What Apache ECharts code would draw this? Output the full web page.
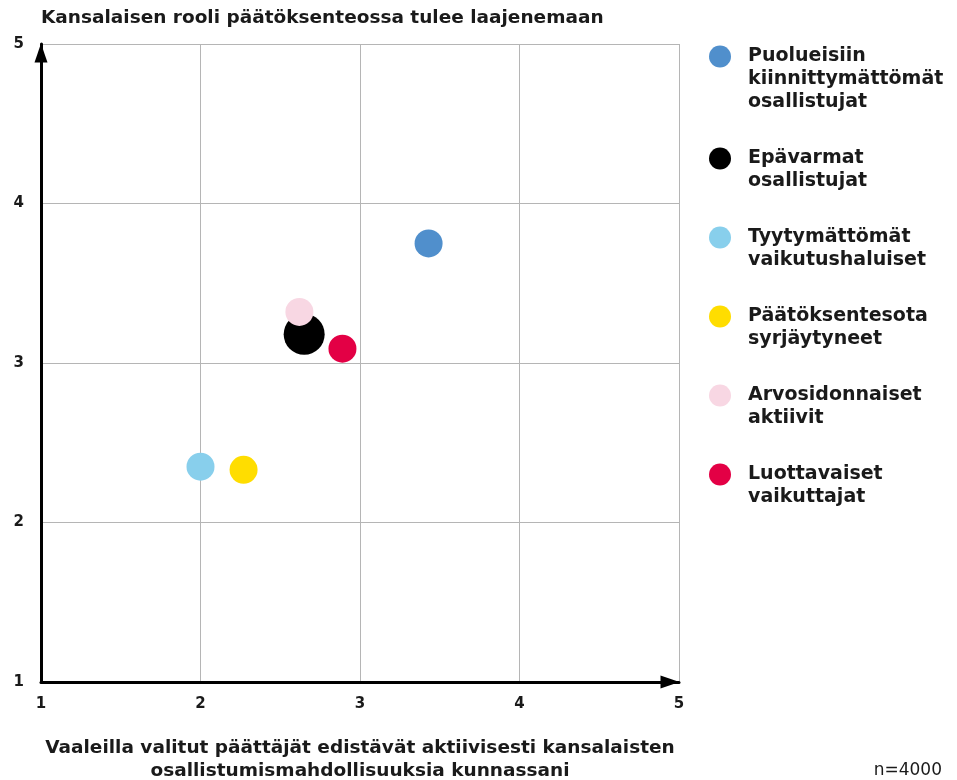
<!DOCTYPE html>
<html>
<head>
<meta charset="utf-8">
<script src="https://cdn.jsdelivr.net/npm/echarts@6/dist/echarts.min.js"></script>
<style>
  html, body { margin: 0; padding: 0; background: #fff; }
  #chart { width: 957px; height: 780px; }
</style>
</head>
<body>
<div id="chart"></div>
<script>
// ryhmät (legendan järjestys)
const groups = [
  'Puolueisiin kiinnittymättömät osallistujat',
  'Epävarmat osallistujat',
  'Tyytymättömät vaikutushaluiset',
  'Päätöksentesota syrjäytyneet',
  'Arvosidonnaiset aktiivit',
  'Luottavaiset vaikuttajat'
];
const groupLabels = [
  'Puolueisiin\nkiinnittymättömät\nosallistujat',
  'Epävarmat\nosallistujat',
  'Tyytymättömät\nvaikutushaluiset',
  'Päätöksentesota\nsyrjäytyneet',
  'Arvosidonnaiset\naktiivit',
  'Luottavaiset\nvaikuttajat'
];
// x: päättäjät edistävät osallistumista, y: kansalaisen rooli laajenee
const xValues = [3.43, 2.65, 2.00, 2.27, 2.62, 2.89];
const yValues = [3.75, 3.18, 2.35, 2.33, 3.32, 3.09];
const colors = ['#508fcc', '#000000', '#88cfec', '#ffdd00', '#f8d7e3', '#e30045'];
const axisTicks = [1, 2, 3, 4, 5];

const FONT = 'DejaVu Sans';
const LH = 23;

const chart = echarts.init(document.getElementById('chart'));

const axisBase = {
  type: 'value',
  min: axisTicks[0],
  max: axisTicks[axisTicks.length - 1],
  interval: 1,
  axisLine: {
    show: true,
    symbol: ['none', 'triangle'],
    symbolSize: [13, 19],
    symbolOffset: [0, -9],
    lineStyle: { color: '#000', width: 3 }
  },
  axisTick: { show: false },
  splitLine: { show: true, lineStyle: { color: '#b5b5b5', width: 1 } },
  axisLabel: {
    color: '#1a1a1a',
    fontFamily: FONT,
    fontWeight: 'bold',
    fontSize: 15
  }
};

const option = {
  animation: false,
  color: colors,
  title: {
    text: 'n=4000',
    right: 15,
    bottom: 1,
    padding: 0,
    textStyle: { fontFamily: FONT, fontWeight: 'normal', fontSize: 17, color: '#1a1a1a' }
  },
  grid: { left: 41, right: 278, top: 44, bottom: 98, outerBoundsMode: 'none', containLabel: false },
  xAxis: Object.assign({}, axisBase, {
    name: 'Vaaleilla valitut päättäjät edistävät aktiivisesti kansalaisten\nosallistumismahdollisuuksia kunnassani',
    nameLocation: 'middle',
    nameGap: 78,
    nameTextStyle: {
      fontFamily: FONT, fontWeight: 'bold', fontSize: 18.5, color: '#1a1a1a',
      lineHeight: LH, align: 'center', verticalAlign: 'middle'
    },
    axisLabel: Object.assign({}, axisBase.axisLabel, { margin: 15 })
  }),
  yAxis: Object.assign({}, axisBase, {
    name: 'Kansalaisen rooli päätöksenteossa tulee laajenemaan',
    nameLocation: 'end',
    nameGap: 26,
    nameTextStyle: {
      fontFamily: FONT, fontWeight: 'bold', fontSize: 18.5, color: '#1a1a1a',
      align: 'left', verticalAlign: 'middle'
    },
    axisLabel: Object.assign({}, axisBase.axisLabel, { margin: 17 })
  }),
  legend: {
    orient: 'vertical',
    left: 709,
    top: -1,
    padding: 0,
    itemGap: 10,
    itemWidth: 22,
    itemHeight: 22,
    icon: 'circle',
    selectedMode: false,
    data: groups.map(function (g) {
      return { name: g };
    }),
    // tyhjät rivit ylös, jotta ensimmäinen rivi osuu pallon kohdalle
    formatter: function (name) {
      const label = groupLabels[groups.indexOf(name)];
      const n = label.split('\n').length;
      return '\n'.repeat(n - 1) + label;
    },
    textStyle: {
      fontFamily: FONT, fontWeight: 'bold', fontSize: 19, color: '#1a1a1a',
      lineHeight: LH, padding: [0, 0, 0, 12], backgroundColor: 'rgba(255,255,255,0)'
    }
  },
  series: groups.map(function (g, i) {
    return {
      name: g,
      type: 'scatter',
      symbolSize: i === 1 ? 41 : 28,
      itemStyle: { color: colors[i], opacity: 1 },
      data: [[xValues[i], yValues[i]]]
    };
  })
};

chart.setOption(option);
</script>
</body>
</html>
